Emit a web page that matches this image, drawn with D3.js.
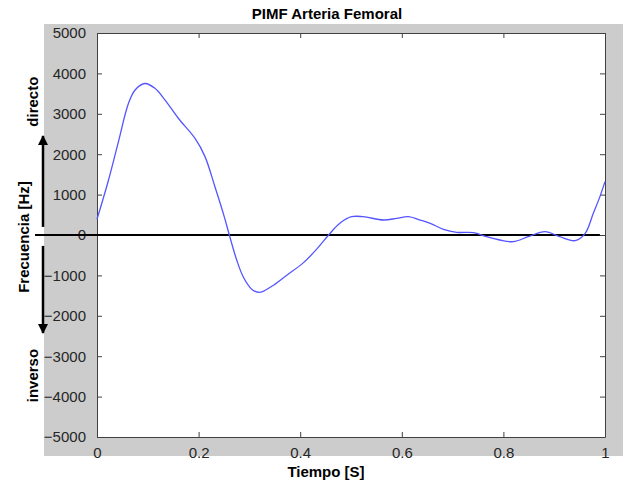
<!DOCTYPE html>
<html>
<head>
<meta charset="utf-8">
<script src="https://d3js.org/d3.v7.min.js"></script>
<style>
  html, body { margin: 0; padding: 0; background: #ffffff; }
  svg { display: block; }
  text { font-family: "Liberation Sans", Arial, sans-serif; }
</style>
</head>
<body>
<script>
// ---- Data ----
const timeValues = [0, 0.022, 0.042, 0.062, 0.075, 0.0945, 0.114, 0.134, 0.160, 0.193, 0.2126, 0.232, 0.2506,
  0.2605, 0.275, 0.288, 0.3045, 0.321, 0.344, 0.373, 0.406, 0.4325, 0.456, 0.478, 0.501, 0.524, 0.564, 0.590,
  0.613, 0.636, 0.656, 0.682, 0.708, 0.741, 0.767, 0.793, 0.8195, 0.849, 0.882, 0.911, 0.941, 0.961, 0.977, 0.990, 1.0];
const freqValues = [390, 1330, 2300, 3260, 3590, 3750, 3630, 3340, 2890, 2390, 1940, 1200, 450,
  0, -620, -1040, -1340, -1420, -1270, -1000, -690, -350, 0, 290, 453, 453, 371, 412,
  453, 371, 290, 140, 66, 58, -41, -124, -165, -41, 83, -41, -140, 41, 537, 950, 1320];
const xTicks = [0, 0.2, 0.4, 0.6, 0.8, 1];
const yTicks = [-5000, -4000, -3000, -2000, -1000, 0, 1000, 2000, 3000, 4000, 5000];
const titleText = "PIMF Arteria Femoral";
const xLabel = "Tiempo [S]";
const yLabel = "Frecuencia [Hz]";
const upLabel = "directo";
const downLabel = "inverso";
const zeroLineExtent = [-0.122, 0.99];
const upArrow = [200, 2450];    // tail, tip (Hz)
const downArrow = [-270, -2425];

// ---- Layout ----
const W = 623, H = 484;
const plot = { left: 97, right: 605, top: 33, bottom: 437 };

const svg = d3.select("body").append("svg").attr("width", W).attr("height", H);

svg.append("rect").attr("x", 44).attr("y", 24).attr("width", W - 44).attr("height", 456 - 24)
  .attr("fill", "#cccccc");

const x = d3.scaleLinear().domain([0, 1]).range([plot.left, plot.right]);
const y = d3.scaleLinear().domain([-5000, 5000]).range([plot.bottom, plot.top]);

svg.append("rect").attr("x", plot.left).attr("y", plot.top)
  .attr("width", plot.right - plot.left).attr("height", plot.bottom - plot.top)
  .attr("fill", "#ffffff");

// axes
const axisColor = "#404040";
function styleAxis(g, showLabels) {
  g.select(".domain").attr("stroke", axisColor).attr("stroke-width", 1);
  g.selectAll(".tick line").attr("stroke", axisColor);
  g.selectAll(".tick text").attr("fill", "#262626")
    .style("font-size", "15px").style("font-family", "'Liberation Sans', Arial, sans-serif");
  if (!showLabels) g.selectAll(".tick text").remove();
}

const fmtX = d => d === 0 ? "0" : (d === 1 ? "1" : d3.format(".1f")(d));

svg.append("g").attr("transform", `translate(0,${plot.bottom})`)
  .call(d3.axisBottom(x).tickValues(xTicks).tickSize(-5).tickPadding(10).tickSizeOuter(0).tickFormat(fmtX))
  .call(g => styleAxis(g, true));
svg.append("g").attr("transform", `translate(0,${plot.top})`)
  .call(d3.axisTop(x).tickValues(xTicks).tickSize(-5).tickSizeOuter(0))
  .call(g => styleAxis(g, false));
svg.append("g").attr("transform", `translate(${plot.left},0)`)
  .call(d3.axisLeft(y).tickValues(yTicks).tickSize(-5).tickPadding(11).tickSizeOuter(0).tickFormat(d3.format("d")))
  .call(g => styleAxis(g, true));
svg.append("g").attr("transform", `translate(${plot.right},0)`)
  .call(d3.axisRight(y).tickValues(yTicks).tickSize(-5).tickSizeOuter(0))
  .call(g => styleAxis(g, false));

// zero line
svg.append("line")
  .attr("x1", x(zeroLineExtent[0])).attr("x2", x(zeroLineExtent[1]))
  .attr("y1", y(0)).attr("y2", y(0))
  .attr("stroke", "#000").attr("stroke-width", 2);

// curve
const data = timeValues.map((t, i) => ({ t, v: freqValues[i] }));
const line = d3.line().x(d => x(d.t)).y(d => y(d.v)).curve(d3.curveCatmullRom.alpha(0.5));
svg.append("path").datum(data).attr("d", line)
  .attr("fill", "none").attr("stroke", "#5555ff").attr("stroke-width", 1.3);

// arrows
const defs = svg.append("defs");
defs.append("marker").attr("id", "ah").attr("viewBox", "0 0 10 10")
  .attr("refX", 9).attr("refY", 5).attr("markerWidth", 4).attr("markerHeight", 4)
  .attr("markerUnits", "strokeWidth").attr("orient", "auto")
  .append("path").attr("d", "M0,0 L10,5 L0,10 Z").attr("fill", "#000");

const arrowX = 43;
[upArrow, downArrow].forEach(a => {
  svg.append("line").attr("x1", arrowX).attr("x2", arrowX)
    .attr("y1", y(a[0])).attr("y2", y(a[1]))
    .attr("stroke", "#000").attr("stroke-width", 2.5).attr("marker-end", "url(#ah)");
});

// texts
svg.append("text").attr("x", 327).attr("y", 19).attr("text-anchor", "middle")
  .style("font-size", "15px").style("font-weight", "bold").text(titleText);
svg.append("text").attr("x", 326).attr("y", 477).attr("text-anchor", "middle")
  .style("font-size", "15px").style("font-weight", "bold").text(xLabel);
svg.append("text").attr("transform", `translate(29,${y(-50)}) rotate(-90)`).attr("text-anchor", "middle")
  .style("font-size", "15px").style("font-weight", "bold").text(yLabel);
svg.append("text").attr("transform", `translate(37.5,${y(3300)}) rotate(-90)`).attr("text-anchor", "middle")
  .style("font-size", "15px").style("font-weight", "bold").text(upLabel);
svg.append("text").attr("transform", `translate(37.5,${y(-3480)}) rotate(-90)`).attr("text-anchor", "middle")
  .style("font-size", "15px").style("font-weight", "bold").text(downLabel);
</script>
</body>
</html>
